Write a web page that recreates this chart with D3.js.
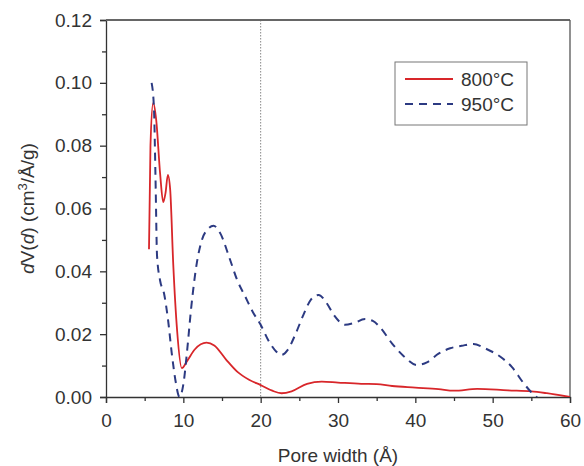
<!DOCTYPE html>
<html>
<head>
<meta charset="utf-8">
<script src="https://cdn.jsdelivr.net/npm/d3@7"></script>
<style>
  body { margin: 0; background: #fff; }
  text { font-family: "Liberation Sans", Arial, sans-serif; }
</style>
</head>
<body>
<div id="chart"></div>
<script>
const width = 584;
const height = 466;
const margin = ({ top: 20, right: 14, bottom: 69, left: 106 });

// 800°C series (pore width, dV(d))
const x800 = [5.56, 5.75, 6.1, 6.5, 7.0, 7.4, 7.7, 8.0, 8.3, 8.7, 9.2, 9.8, 10.5, 11.5, 13.0, 14.0, 15.5, 17, 18.5, 20, 21.5, 22.7, 24, 26, 27.9, 30, 33, 35, 37, 40, 43, 45, 48, 52, 55, 57, 60];
const y800 = [0.047, 0.08, 0.0936, 0.088, 0.071, 0.062, 0.065, 0.0707, 0.066, 0.042, 0.021, 0.0092, 0.0115, 0.0152, 0.0173, 0.0164, 0.012, 0.008, 0.0055, 0.0038, 0.002, 0.0012, 0.0018, 0.0042, 0.0049, 0.0046, 0.0042, 0.0041, 0.0035, 0.003, 0.0025, 0.002, 0.0026, 0.0021, 0.0018, 0.0012, 0.0];

// 950°C series
const x950 = [5.9, 6.2, 6.4, 6.6, 7.0, 7.5, 8.0, 8.5, 9.0, 9.5, 10.0, 10.5, 11.0, 11.7, 12.4, 13.2, 13.9, 14.8, 16, 17, 18, 19, 20, 21, 22, 22.7, 23.5, 24.5, 25.5, 26.5, 27.5, 28.5, 29.5, 30.9, 32, 33.5, 34.5, 35.5, 37, 38.5, 40.2, 41.5, 43, 44.5, 46, 47.5, 49, 51, 52.5, 54, 55, 55.9];
const y950 = [0.1, 0.092, 0.07, 0.045, 0.037, 0.033, 0.025, 0.014, 0.005, 0.0, 0.004, 0.015, 0.028, 0.042, 0.05, 0.0535, 0.0545, 0.052, 0.044, 0.037, 0.032, 0.027, 0.023, 0.018, 0.0145, 0.0134, 0.015, 0.02, 0.026, 0.031, 0.0325, 0.03, 0.026, 0.023, 0.0235, 0.0248, 0.0242, 0.022, 0.017, 0.013, 0.0102, 0.011, 0.0138, 0.0155, 0.0163, 0.0169, 0.0155, 0.0128, 0.0095, 0.0044, 0.0015, -0.0005];

const xMajor = [0, 10, 20, 30, 40, 50, 60];
const xMinor = [5, 15, 25, 35, 45, 55];
const yMajor = [0, 0.02, 0.04, 0.06, 0.08, 0.10, 0.12];
const yMinor = [0.01, 0.03, 0.05, 0.07, 0.09, 0.11];

const seriesNames = ["800°C", "950°C"];
const seriesColors = ["#d8262a", "#2c3a82"];

const fs = 19;

const svg = d3.select("#chart")
  .append("svg")
  .attr("width", width)
  .attr("height", height);

const x = d3.scaleLinear()
  .domain([0, 60])
  .range([margin.left, width - margin.right]);

const y = d3.scaleLinear()
  .domain([0, 0.12])
  .range([height - margin.bottom, margin.top]);

svg.append("clipPath")
  .attr("id", "clip")
  .append("rect")
  .attr("x", margin.left)
  .attr("y", margin.top)
  .attr("width", width - margin.left - margin.right)
  .attr("height", height - margin.top - margin.bottom);

// reference line at 20 Å
svg.append("line")
  .attr("x1", x(20)).attr("x2", x(20))
  .attr("y1", y(0.12)).attr("y2", y(0))
  .attr("stroke", "#888")
  .attr("stroke-width", 1)
  .attr("stroke-dasharray", "1.5,1.5");

// axes
const xAxis = g => g
  .attr("transform", `translate(0,${height - margin.bottom})`)
  .call(d3.axisBottom(x).tickValues(xMajor).tickSize(6).tickPadding(11).tickFormat(d3.format("d")))
  .call(g => g.selectAll(".tick text").attr("font-size", fs).attr("fill", "#333"));

const yAxis = g => g
  .attr("transform", `translate(${margin.left},0)`)
  .call(d3.axisLeft(y).tickValues(yMajor).tickSize(6).tickPadding(8).tickFormat(d3.format(".2f")))
  .call(g => g.selectAll(".tick text").attr("font-size", fs).attr("fill", "#333"));

svg.append("g").call(xAxis);
svg.append("g").call(yAxis);

svg.append("g")
  .attr("transform", `translate(0,${height - margin.bottom})`)
  .call(d3.axisBottom(x).tickValues(xMinor).tickSize(4).tickFormat(""))
  .call(g => g.select(".domain").remove());

svg.append("g")
  .attr("transform", `translate(${margin.left},0)`)
  .call(d3.axisLeft(y).tickValues(yMinor).tickSize(4).tickFormat(""))
  .call(g => g.select(".domain").remove());

svg.selectAll(".domain, .tick line").attr("stroke", "#333").attr("stroke-width", 1.3);

// frame top and right
svg.append("line")
  .attr("x1", x(0)).attr("x2", x(60))
  .attr("y1", y(0.12)).attr("y2", y(0.12))
  .attr("stroke", "#666").attr("stroke-width", 2);
svg.append("line")
  .attr("x1", x(60)).attr("x2", x(60))
  .attr("y1", y(0.12)).attr("y2", y(0))
  .attr("stroke", "#555").attr("stroke-width", 1.3);

// curves
const line = d3.line()
  .x(d => x(d[0]))
  .y(d => y(d[1]))
  .curve(d3.curveMonotoneX);

const data800 = x800.map((v, i) => [v, y800[i]]);
const data950 = x950.map((v, i) => [v, y950[i]]);

svg.append("path")
  .datum(data800)
  .attr("clip-path", "url(#clip)")
  .attr("fill", "none")
  .attr("stroke", seriesColors[0])
  .attr("stroke-width", 1.8)
  .attr("d", line);

svg.append("path")
  .datum(data950)
  .attr("clip-path", "url(#clip)")
  .attr("fill", "none")
  .attr("stroke", seriesColors[1])
  .attr("stroke-width", 2)
  .attr("stroke-dasharray", "8,6")
  .attr("d", line);

// axis labels
svg.append("text")
  .attr("x", x(30))
  .attr("y", 462)
  .attr("text-anchor", "middle")
  .attr("font-size", fs)
  .attr("fill", "#333")
  .text("Pore width (Å)");

const yl = svg.append("text")
  .attr("transform", `translate(34,${y(0.06)}) rotate(-90)`)
  .attr("text-anchor", "middle")
  .attr("font-size", fs)
  .attr("fill", "#333");
yl.append("tspan").attr("font-style", "italic").text("d");
yl.append("tspan").text("V(");
yl.append("tspan").attr("font-style", "italic").text("d");
yl.append("tspan").text(") (cm");
yl.append("tspan").attr("font-size", 13).attr("dy", -7).text("3");
yl.append("tspan").attr("dy", 7).text("/Å/g)");

// legend
const legend = svg.append("g").attr("transform", "translate(395,62)");
legend.append("rect")
  .attr("width", 132).attr("height", 63)
  .attr("fill", "#fff")
  .attr("stroke", "#777").attr("stroke-width", 1);

seriesNames.forEach((name, i) => {
  const ly = 17 + i * 25;
  legend.append("line")
    .attr("x1", 10).attr("x2", 58)
    .attr("y1", ly).attr("y2", ly)
    .attr("stroke", seriesColors[i])
    .attr("stroke-width", 2)
    .attr("stroke-dasharray", i === 1 ? "8,6" : null);
  legend.append("text")
    .attr("x", 66).attr("y", ly + 7)
    .attr("font-size", fs)
    .attr("fill", "#333")
    .text(name);
});
</script>
</body>
</html>
